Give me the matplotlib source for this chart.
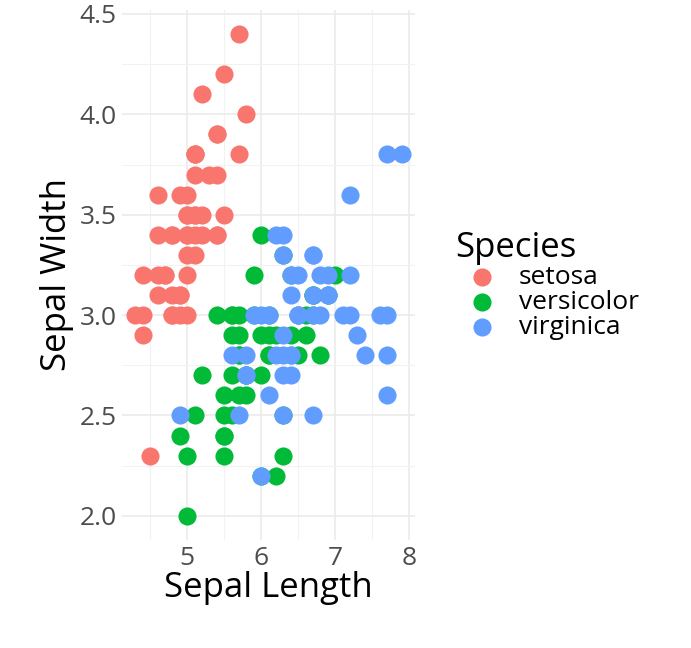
import matplotlib
matplotlib.use("Agg")
import matplotlib.pyplot as plt
from matplotlib.ticker import MultipleLocator

setosa_sl=[5.1,4.9,4.7,4.6,5.0,5.4,4.6,5.0,4.4,4.9,5.4,4.8,4.8,4.3,5.8,5.7,5.4,5.1,5.7,5.1,5.4,5.1,4.6,5.1,4.8,5.0,5.0,5.2,5.2,4.7,4.8,5.4,5.2,5.5,4.9,5.0,5.5,4.9,4.4,5.1,5.0,4.5,4.4,5.0,5.1,4.8,5.1,4.6,5.3,5.0]
setosa_sw=[3.5,3.0,3.2,3.1,3.6,3.9,3.4,3.4,2.9,3.1,3.7,3.4,3.0,3.0,4.0,4.4,3.9,3.5,3.8,3.8,3.4,3.7,3.6,3.3,3.4,3.0,3.4,3.5,3.4,3.2,3.1,3.4,4.1,4.2,3.1,3.2,3.5,3.6,3.0,3.4,3.5,2.3,3.2,3.5,3.8,3.0,3.8,3.2,3.7,3.3]
versicolor_sl=[7.0,6.4,6.9,5.5,6.5,5.7,6.3,4.9,6.6,5.2,5.0,5.9,6.0,6.1,5.6,6.7,5.6,5.8,6.2,5.6,5.9,6.1,6.3,6.1,6.4,6.6,6.8,6.7,6.0,5.7,5.5,5.5,5.8,6.0,5.4,6.0,6.7,6.3,5.6,5.5,5.5,6.1,5.8,5.0,5.6,5.7,5.7,6.2,5.1,5.7]
versicolor_sw=[3.2,3.2,3.1,2.3,2.8,2.8,3.3,2.4,2.9,2.7,2.0,3.0,2.2,2.9,2.9,3.1,3.0,2.7,2.2,2.5,3.2,2.8,2.5,2.8,2.9,3.0,2.8,3.0,2.9,2.6,2.4,2.4,2.7,2.7,3.0,3.4,3.1,2.3,3.0,2.5,2.6,3.0,2.6,2.3,2.7,3.0,2.9,2.9,2.5,2.8]
virginica_sl=[6.3,5.8,7.1,6.3,6.5,7.6,4.9,7.3,6.7,7.2,6.5,6.4,6.8,5.7,5.8,6.4,6.5,7.7,7.7,6.0,6.9,5.6,7.7,6.3,6.7,7.2,6.2,6.1,6.4,7.2,7.4,7.9,6.4,6.3,6.1,7.7,6.3,6.4,6.0,6.9,6.7,6.9,5.8,6.8,6.7,6.7,6.3,6.5,6.2,5.9]
virginica_sw=[3.3,2.7,3.0,2.9,3.0,3.0,2.5,2.9,2.5,3.6,3.2,2.7,3.0,2.5,2.8,3.2,3.0,3.8,2.6,2.2,3.2,2.8,2.8,2.7,3.3,3.2,2.8,3.0,2.8,3.0,2.8,3.8,2.8,2.8,2.6,3.0,3.4,3.1,3.0,3.1,3.1,3.1,2.7,3.2,3.3,3.0,2.5,3.0,3.4,3.0]
species=["setosa","versicolor","virginica"]
colors=["#F8766D","#00BA38","#619CFF"]

plt.rcParams['font.family']=['Open Sans','DejaVu Sans']
fig=plt.figure(figsize=(6.91,6.48),dpi=100)
ax=fig.add_axes([0.1766,0.1667,0.424,0.818])
for (x,y),n,c in zip([(setosa_sl,setosa_sw),(versicolor_sl,versicolor_sw),(virginica_sl,virginica_sw)],species,colors):
    ax.scatter(x,y,s=170,color=c,label=n,linewidths=0,zorder=3)
ax.set_xlim(4.12,8.08); ax.set_ylim(1.88,4.52)
ax.xaxis.set_major_locator(MultipleLocator(1)); ax.xaxis.set_minor_locator(MultipleLocator(0.5))
ax.yaxis.set_major_locator(MultipleLocator(0.5)); ax.yaxis.set_minor_locator(MultipleLocator(0.25))
ax.set_yticks([2.0,2.5,3.0,3.5,4.0,4.5]); ax.set_yticklabels(["2.0","2.5","3.0","3.5","4.0","4.5"])
ax.grid(which='major',color='#EBEBEB',lw=1.2,zorder=0)
ax.grid(which='minor',color='#F2F2F2',lw=0.8,zorder=0)
for s in ax.spines.values(): s.set_visible(False)
ax.tick_params(which='both',length=0,labelsize=19,labelcolor='#4D4D4D',pad=4)
ax.set_xlabel("Sepal Length",fontsize=25,labelpad=0)
ax.set_ylabel("Sepal Width",fontsize=25,labelpad=4)
leg=fig.legend(loc='center left',bbox_to_anchor=(0.625,0.56),title="Species",frameon=False,
    fontsize=19,title_fontsize=25,handletextpad=0.4,labelspacing=0.0,markerscale=1.0)
leg._legend_box.align='left'
fig.savefig("out.png",dpi=100)
